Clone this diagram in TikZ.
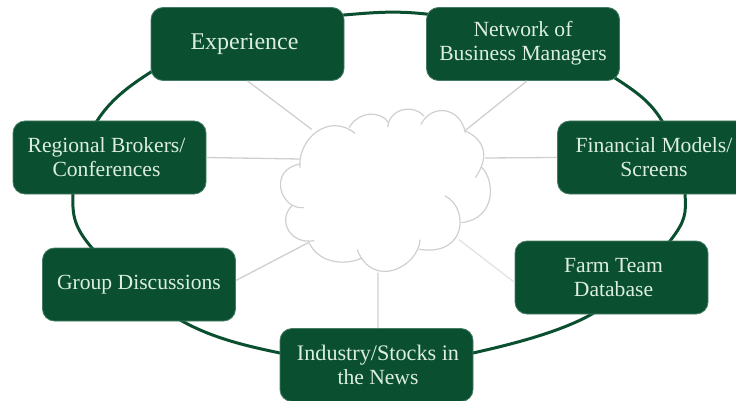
\documentclass[tikz,border=0pt]{standalone}
\usepackage{fontspec}
\setmainfont{Liberation Serif}
\definecolor{dkgreen}{HTML}{0A5030}
\definecolor{palegreen}{HTML}{DCEEDF}
\definecolor{linegrey}{HTML}{CFCFCF}
\tikzset{
  topic/.style={draw=dkgreen!75!white,line width=0.8pt,fill=dkgreen,rounded corners=12pt,minimum width=193pt,minimum height=73pt,
    text=palegreen,align=center,font=\fontsize{21.6}{24}\selectfont,inner sep=0pt},
  spoke/.style={draw=linegrey,line width=1.3pt},
  faint/.style={draw=linegrey!60!white,line width=1.3pt},
  puff/.style={draw=linegrey,line width=1.2pt,line cap=round},
  ring/.style={draw=dkgreen,line width=3pt}
}
\begin{document}
\begin{tikzpicture}[x=1pt,y=-1pt]
\useasboundingbox (0,0) rectangle (736,401);
\clip (0,0) rectangle (736,401);
\draw[ring] plot[smooth cycle,tension=0.6] coordinates {(344,15) (426,14) (530,35) (615,78) (662,121) (685,194) (670,241) (592,314) (473,353) (378,362) (280,353) (182,321) (92,248) (73,194) (97,121) (151,72) (240,30)};
% boxes
\node[topic] (exp) at (247.5,44) {\raisebox{5pt}{\fontsize{24}{24}\selectfont Experience}\hspace*{6pt}};
\node[topic] (net) at (523,44) {\raisebox{4pt}{\begin{tabular}{@{}c@{}}Network of\\Business Managers\end{tabular}}};
\node[topic] (reg) at (109.5,157.5) {Regional Brokers/\hspace*{6pt}\\Conferences\hspace*{6pt}};
\node[topic] (fin) at (654,157.5) {Financial Models/\\Screens};
\node[topic] (farm) at (611.5,277.5) {\hspace*{4pt}Farm Team\\\hspace*{4pt}Database};
\node[topic] (grp) at (139,284.5) {\raisebox{-1pt}{Group Discussions}};
\node[topic] (ind) at (376.5,365) {\hspace*{3pt}{\fontsize{22.2}{24}\selectfont Industry/Stocks in}\\\hspace*{3pt}the News};
% cloud
\begin{scope}[shift={(260,90)},x=0.3333pt,y=-0.3333pt]
\coordinate (cExp) at (155,118);
\coordinate (cNet) at (615,122);
\coordinate (cReg) at (119,207);
\coordinate (cFin) at (675,204);
\coordinate (cFarm) at (597,449);
\coordinate (cGrp) at (145,458);
\coordinate (cInd) at (354,548);
\draw[puff] (120,232) .. controls (112,150) and (205,65) .. (285,130);
\draw[puff] (268,112) .. controls (295,65) and (360,60) .. (385,97);
\draw[puff] (383,110) .. controls (392,50) and (465,45) .. (492,78);
\draw[puff] (483,103) .. controls (515,40) and (600,50) .. (616,127);
\draw[puff] (615,122) .. controls (665,145) and (695,190) .. (647,262);
\draw[puff] (665,232) .. controls (705,270) and (710,385) .. (605,398);
\draw[puff] (555,318) .. controls (625,350) and (625,500) .. (478,478);
\draw[puff] (480,450) .. controls (475,530) and (340,600) .. (292,480);
\draw[puff] (305,505) .. controls (245,530) and (170,515) .. (145,453);
\draw[puff] (162,452) .. controls (95,465) and (50,395) .. (95,348);
\draw[puff] (130,353) .. controls (62,360) and (22,240) .. (120,222);
\end{scope}
% connectors
\draw[spoke] (exp.south) -- (cExp);
\draw[spoke] ([xshift=4pt]net.south) -- (cNet);
\draw[spoke] (reg.east) -- (cReg);
\draw[spoke] (fin.west) -- (cFin);
\draw[faint] ([yshift=-5pt]farm.west) -- (cFarm);
\draw[spoke] ([yshift=4pt]grp.east) -- (cGrp);
\draw[spoke] ([xshift=1.5pt]ind.north) -- (cInd);
\end{tikzpicture}
\end{document}
